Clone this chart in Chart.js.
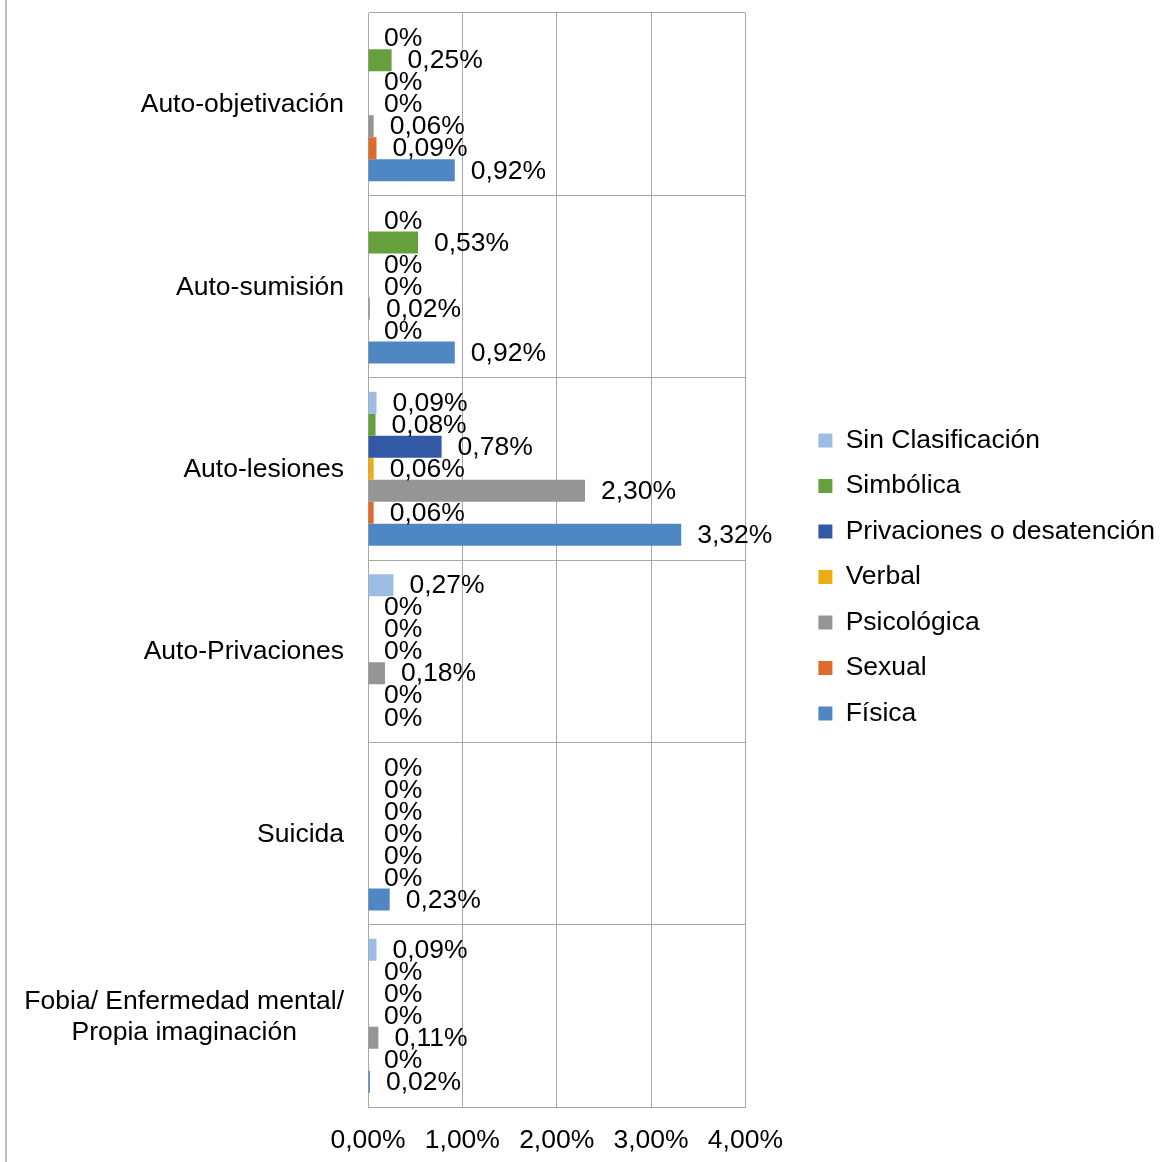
<!DOCTYPE html>
<html>
<head>
<meta charset="utf-8">
<script src="https://cdn.jsdelivr.net/npm/chart.js@4"></script>
<style>
  html, body { margin: 0; padding: 0; background: #fff; }
  #wrap { width: 1168px; height: 1162px; }
</style>
</head>
<body>
<div id="wrap"><canvas id="grafico" width="1168" height="1162"></canvas></div>
<script>
const categorias = [
    "Auto-objetivación",
    "Auto-sumisión",
    "Auto-lesiones",
    "Auto-Privaciones",
    "Suicida",
    ["Fobia/ Enfermedad mental/", "Propia imaginación"]
];

// valores en % (de arriba a abajo en cada grupo)
const sinClasificacion = [0, 0, 0.09, 0.27, 0, 0.09];
const simbolica = [0.25, 0.53, 0.08, 0, 0, 0];
const privaciones = [0, 0, 0.78, 0, 0, 0];
const verbal = [0, 0, 0.06, 0, 0, 0];
const psicologica = [0.06, 0.02, 2.30, 0.18, 0, 0.11];
const sexual = [0.09, 0, 0.06, 0, 0, 0];
const fisica = [0.92, 0.92, 3.32, 0, 0.23, 0.02];

const etiquetasX = ["0,00%", "1,00%", "2,00%", "3,00%", "4,00%"];

const fuente = '"Liberation Sans", Arial, sans-serif';
const tam = 26.5;

const formato = v => v === 0 ? "0%" : v.toFixed(2).replace(".", ",") + "%";

const bordeIzq = {
    id: "bordeIzq",
    beforeDraw(chart) {
        const ctx = chart.ctx;
        ctx.save();
        ctx.fillStyle = "#BDBDBD";
        ctx.fillRect(5, 0, 2, chart.height);
        ctx.restore();
    }
};

const etiquetasValor = {
    id: "etiquetasValor",
    afterDatasetsDraw(chart) {
        const ctx = chart.ctx;
        ctx.save();
        ctx.font = tam + "px " + fuente;
        ctx.fillStyle = "#000";
        ctx.textAlign = "left";
        ctx.textBaseline = "middle";
        chart.data.datasets.forEach((ds, i) => {
            chart.getDatasetMeta(i).data.forEach((barra, j) => {
                ctx.fillText(formato(ds.data[j]), barra.x + 16, barra.y + 1);
            });
        });
        ctx.restore();
    }
};

const etiquetasCategoria = {
    id: "etiquetasCategoria",
    afterDraw(chart) {
        const ctx = chart.ctx;
        const y = chart.scales.y;
        const xDer = chart.chartArea.left - 24;
        ctx.save();
        ctx.font = tam + "px " + fuente;
        ctx.fillStyle = "#000";
        ctx.textBaseline = "middle";
        categorias.forEach((cat, i) => {
            const yc = y.getPixelForValue(i) + 1;
            if (!Array.isArray(cat)) {
                ctx.textAlign = "right";
                ctx.fillText(cat, xDer, yc);
                return;
            }
            const anchoMax = Math.max(...cat.map(l => ctx.measureText(l).width));
            ctx.textAlign = "center";
            cat.forEach((l, k) => {
                ctx.fillText(l, xDer - anchoMax / 2, yc + (k - (cat.length - 1) / 2) * 31);
            });
        });
        ctx.restore();
    }
};

Chart.defaults.font.family = fuente;
Chart.defaults.font.size = tam;
Chart.defaults.color = "#000";

new Chart(document.getElementById("grafico"), {
    type: "bar",
    data: {
        labels: categorias,
        datasets: [
            { label: "Sin Clasificación", data: sinClasificacion, backgroundColor: "#9DBDE2" },
            { label: "Simbólica", data: simbolica, backgroundColor: "#66A03C" },
            { label: "Privaciones o desatención", data: privaciones, backgroundColor: "#3358A6" },
            { label: "Verbal", data: verbal, backgroundColor: "#ECAC14" },
            { label: "Psicológica", data: psicologica, backgroundColor: "#959595" },
            { label: "Sexual", data: sexual, backgroundColor: "#DC6B2C" },
            { label: "Física", data: fisica, backgroundColor: "#4F87C3" }
        ]
    },
    options: {
        indexAxis: "y",
        responsive: false,
        animation: false,
        devicePixelRatio: 1,
        datasets: {
            bar: { categoryPercentage: 0.845, barPercentage: 1, borderWidth: 0 }
        },
        layout: { padding: { top: 13, bottom: 0, left: 0, right: 3 } },
        plugins: {
            tooltip: { enabled: false },
            legend: {
                position: "right",
                fullSize: false,
                maxWidth: 380,
                title: { display: true, text: "", font: { size: 10 }, padding: { top: 22, bottom: 0 } },
                labels: { boxWidth: 14, boxHeight: 14, padding: 19, color: "#000", font: { size: tam } }
            }
        },
        scales: {
            x: {
                min: 0,
                max: 4,
                ticks: { stepSize: 1, padding: 18, callback: (v, i) => etiquetasX[i] },
                grid: { color: "#A8A8A8", drawTicks: false },
                border: { color: "#A8A8A8" },
                afterFit: s => { s.height = 55; }
            },
            y: {
                ticks: { display: false },
                grid: { color: "#A8A8A8", drawTicks: false },
                border: { color: "#A8A8A8" },
                afterFit: s => { s.width = 368; }
            },
            hueco: {
                axis: "y",
                type: "category",
                position: "right",
                ticks: { display: false },
                grid: { display: false, drawTicks: false },
                border: { display: false },
                afterFit: s => { s.width = 54; }
            }
        }
    },
    plugins: [bordeIzq, etiquetasValor, etiquetasCategoria]
});
</script>
</body>
</html>
